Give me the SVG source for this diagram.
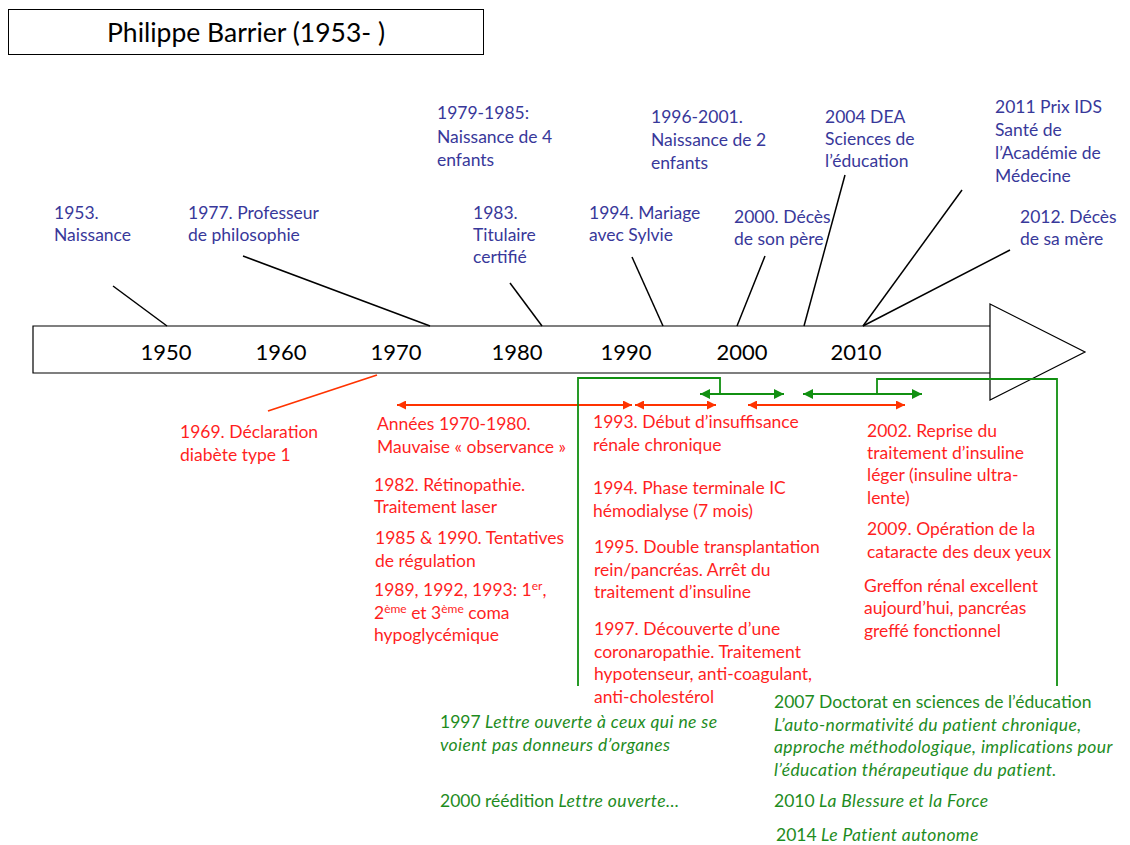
<svg xmlns="http://www.w3.org/2000/svg" width="1130" height="845" viewBox="0 0 1130 845">
<style>
text{font-family:Lato,"Liberation Sans",sans-serif;font-size:17.5px}
.b{fill:#38389a}
.r{fill:#ff1f1f}
.g{fill:#1e8c1e}
.yr{font-size:22px;fill:#000;text-anchor:middle}
.k{stroke:#000;stroke-width:1.5;fill:none}
.ra{stroke:#ff3300;stroke-width:2;fill:none;marker-start:url(#rh);marker-end:url(#rh)}
.ga{stroke:#119011;stroke-width:2;fill:none;marker-start:url(#gh);marker-end:url(#gh)}
.gl{stroke:#119011;stroke-width:1.8;fill:none}
.i{font-style:italic;letter-spacing:0.4px}
</style>
<defs>
<marker id="rh" viewBox="0 0 10 10" refX="10" refY="5" markerWidth="10" markerHeight="9" markerUnits="userSpaceOnUse" orient="auto-start-reverse"><path d="M0,0 L10,5 L0,10 z" fill="#ff3300"/></marker>
<marker id="gh" viewBox="0 0 10 10" refX="10" refY="5" markerWidth="11" markerHeight="10" markerUnits="userSpaceOnUse" orient="auto-start-reverse"><path d="M0,0 L10,5 L0,10 z" fill="#119011"/></marker>
</defs>
<rect width="1130" height="845" fill="#fff"/>
<g id="title">
<rect x="8.5" y="9.5" width="475" height="45" fill="#fff" stroke="#000" stroke-width="1"/>
<text x="246" y="42" text-anchor="middle" style="font-size:26.5px;fill:#000">Philippe Barrier (1953- )</text>
</g>
<g id="timeline">
<path d="M990,326 L33,326 L33,373 L990,373" fill="#fff" stroke="#000" stroke-width="1.2"/>
<path d="M990,304 L1085,352 L990,400 Z" fill="#fff" stroke="#000" stroke-width="1.2"/>
<text class="yr" x="166" y="360">1950</text>
<text class="yr" x="281" y="360">1960</text>
<text class="yr" x="396" y="360">1970</text>
<text class="yr" x="517" y="360">1980</text>
<text class="yr" x="626" y="360">1990</text>
<text class="yr" x="742" y="360">2000</text>
<text class="yr" x="856" y="360">2010</text>
</g>
<g id="connectors">
<line class="k" x1="113" y1="286" x2="167" y2="326"/>
<line class="k" x1="243" y1="256" x2="430" y2="326"/>
<line class="k" x1="510" y1="283" x2="542" y2="326"/>
<line class="k" x1="632" y1="257" x2="663" y2="326"/>
<line class="k" x1="765" y1="256" x2="737" y2="326"/>
<line class="k" x1="845" y1="175" x2="804" y2="326"/>
<line class="k" x1="962" y1="190" x2="863" y2="326"/>
<line class="k" x1="1010" y1="250" x2="863" y2="326"/>
<line x1="268" y1="411" x2="377" y2="375" stroke="#ff3300" stroke-width="1.8"/>
<line class="ra" x1="397" y1="405" x2="632" y2="405"/>
<line class="ra" x1="635" y1="405" x2="716" y2="405"/>
<line class="ra" x1="748" y1="405" x2="905" y2="405"/>
<line class="ga" x1="700" y1="394" x2="784" y2="394"/>
<line class="ga" x1="803" y1="394" x2="922" y2="394"/>
<path class="gl" d="M578,686 L578,378 L720,378 L720,394"/>
<path class="gl" d="M877,394 L877,379 L1057,379 L1057,686"/>
</g>
<g id="n1953"><text class="b" x="54" y="219">1953.</text><text class="b" x="54" y="241">Naissance</text></g>
<g id="n1977"><text class="b" x="188" y="219">1977. Professeur</text><text class="b" x="188" y="241">de philosophie</text></g>
<g id="n1979"><text class="b" x="437" y="119">1979-1985:</text><text class="b" x="437" y="143">Naissance de 4</text><text class="b" x="437" y="166">enfants</text></g>
<g id="n1983"><text class="b" x="473" y="219">1983.</text><text class="b" x="473" y="241">Titulaire</text><text class="b" x="473" y="263">certifié</text></g>
<g id="n1996"><text class="b" x="651" y="123">1996-2001.</text><text class="b" x="651" y="146">Naissance de 2</text><text class="b" x="651" y="169">enfants</text></g>
<g id="n1994"><text class="b" x="589" y="219">1994. Mariage</text><text class="b" x="589" y="241">avec Sylvie</text></g>
<g id="n2000"><text class="b" x="734" y="223">2000. Décès</text><text class="b" x="734" y="245">de son père</text></g>
<g id="n2004"><text class="b" x="825" y="123">2004 DEA</text><text class="b" x="825" y="145">Sciences de</text><text class="b" x="825" y="167">l’éducation</text></g>
<g id="n2011"><text class="b" x="995" y="113">2011 Prix IDS</text><text class="b" x="995" y="136">Santé de</text><text class="b" x="995" y="159">l’Académie de</text><text class="b" x="995" y="182">Médecine</text></g>
<g id="n2012"><text class="b" x="1020" y="223">2012. Décès</text><text class="b" x="1020" y="245">de sa mère</text></g>
<g id="r1969"><text class="r" x="180" y="438">1969. Déclaration</text><text class="r" x="180" y="461">diabète type 1</text></g>
<g id="r1970"><text class="r" x="377" y="430">Années 1970-1980.</text><text class="r" x="377" y="453">Mauvaise « observance »</text></g>
<g id="r1982"><text class="r" x="374" y="491">1982. Rétinopathie.</text><text class="r" x="374" y="513">Traitement laser</text></g>
<g id="r1985"><text class="r" x="375" y="544">1985 &amp; 1990. Tentatives</text><text class="r" x="375" y="567">de régulation</text></g>
<g id="r1989"><text class="r" x="374" y="596">1989, 1992, 1993: 1<tspan dy="-6" style="font-size:12px">er</tspan><tspan dy="6">,</tspan></text><text class="r" x="374" y="619">2<tspan dy="-6" style="font-size:12px">ème</tspan><tspan dy="6"> et 3</tspan><tspan dy="-6" style="font-size:12px">ème</tspan><tspan dy="6"> coma</tspan></text><text class="r" x="374" y="641">hypoglycémique</text></g>
<g id="r1993"><text class="r" x="593" y="428">1993. Début d’insuffisance</text><text class="r" x="593" y="451">rénale chronique</text></g>
<g id="r1994"><text class="r" x="593" y="494">1994. Phase terminale IC</text><text class="r" x="593" y="517">hémodialyse (7 mois)</text></g>
<g id="r1995"><text class="r" x="594" y="553">1995. Double transplantation</text><text class="r" x="594" y="576">rein/pancréas. Arrêt du</text><text class="r" x="594" y="598">traitement d’insuline</text></g>
<g id="r1997"><text class="r" x="594" y="635">1997. Découverte d’une</text><text class="r" x="594" y="658">coronaropathie. Traitement</text><text class="r" x="594" y="680">hypotenseur, anti-coagulant,</text><text class="r" x="594" y="703">anti-cholestérol</text></g>
<g id="r2002"><text class="r" x="867" y="437">2002. Reprise du</text><text class="r" x="867" y="459">traitement d’insuline</text><text class="r" x="867" y="481">léger (insuline ultra-</text><text class="r" x="867" y="504">lente)</text></g>
<g id="r2009"><text class="r" x="867" y="535">2009. Opération de la</text><text class="r" x="867" y="558">cataracte des deux yeux</text></g>
<g id="rgreffon"><text class="r" x="864" y="592">Greffon rénal excellent</text><text class="r" x="864" y="614">aujourd’hui, pancréas</text><text class="r" x="864" y="637">greffé fonctionnel</text></g>
<g id="g1997"><text class="g" x="440" y="728">1997 <tspan class="i">Lettre ouverte à ceux qui ne se</tspan></text><text class="g i" x="440" y="751">voient pas donneurs d’organes</text></g>
<g id="g2000"><text class="g" x="440" y="807">2000 réédition <tspan class="i">Lettre ouverte…</tspan></text></g>
<g id="g2007"><text class="g" x="774" y="708">2007 Doctorat en sciences de l’éducation</text><text class="g i" x="774" y="731">L’auto-normativité du patient chronique,</text><text class="g i" x="774" y="753">approche méthodologique, implications pour</text><text class="g i" x="774" y="776">l’éducation thérapeutique du patient.</text></g>
<g id="g2010"><text class="g" x="774" y="807">2010 <tspan class="i">La Blessure et la Force</tspan></text></g>
<g id="g2014"><text class="g" x="776" y="841">2014 <tspan class="i">Le Patient autonome</tspan></text></g>
</svg>
